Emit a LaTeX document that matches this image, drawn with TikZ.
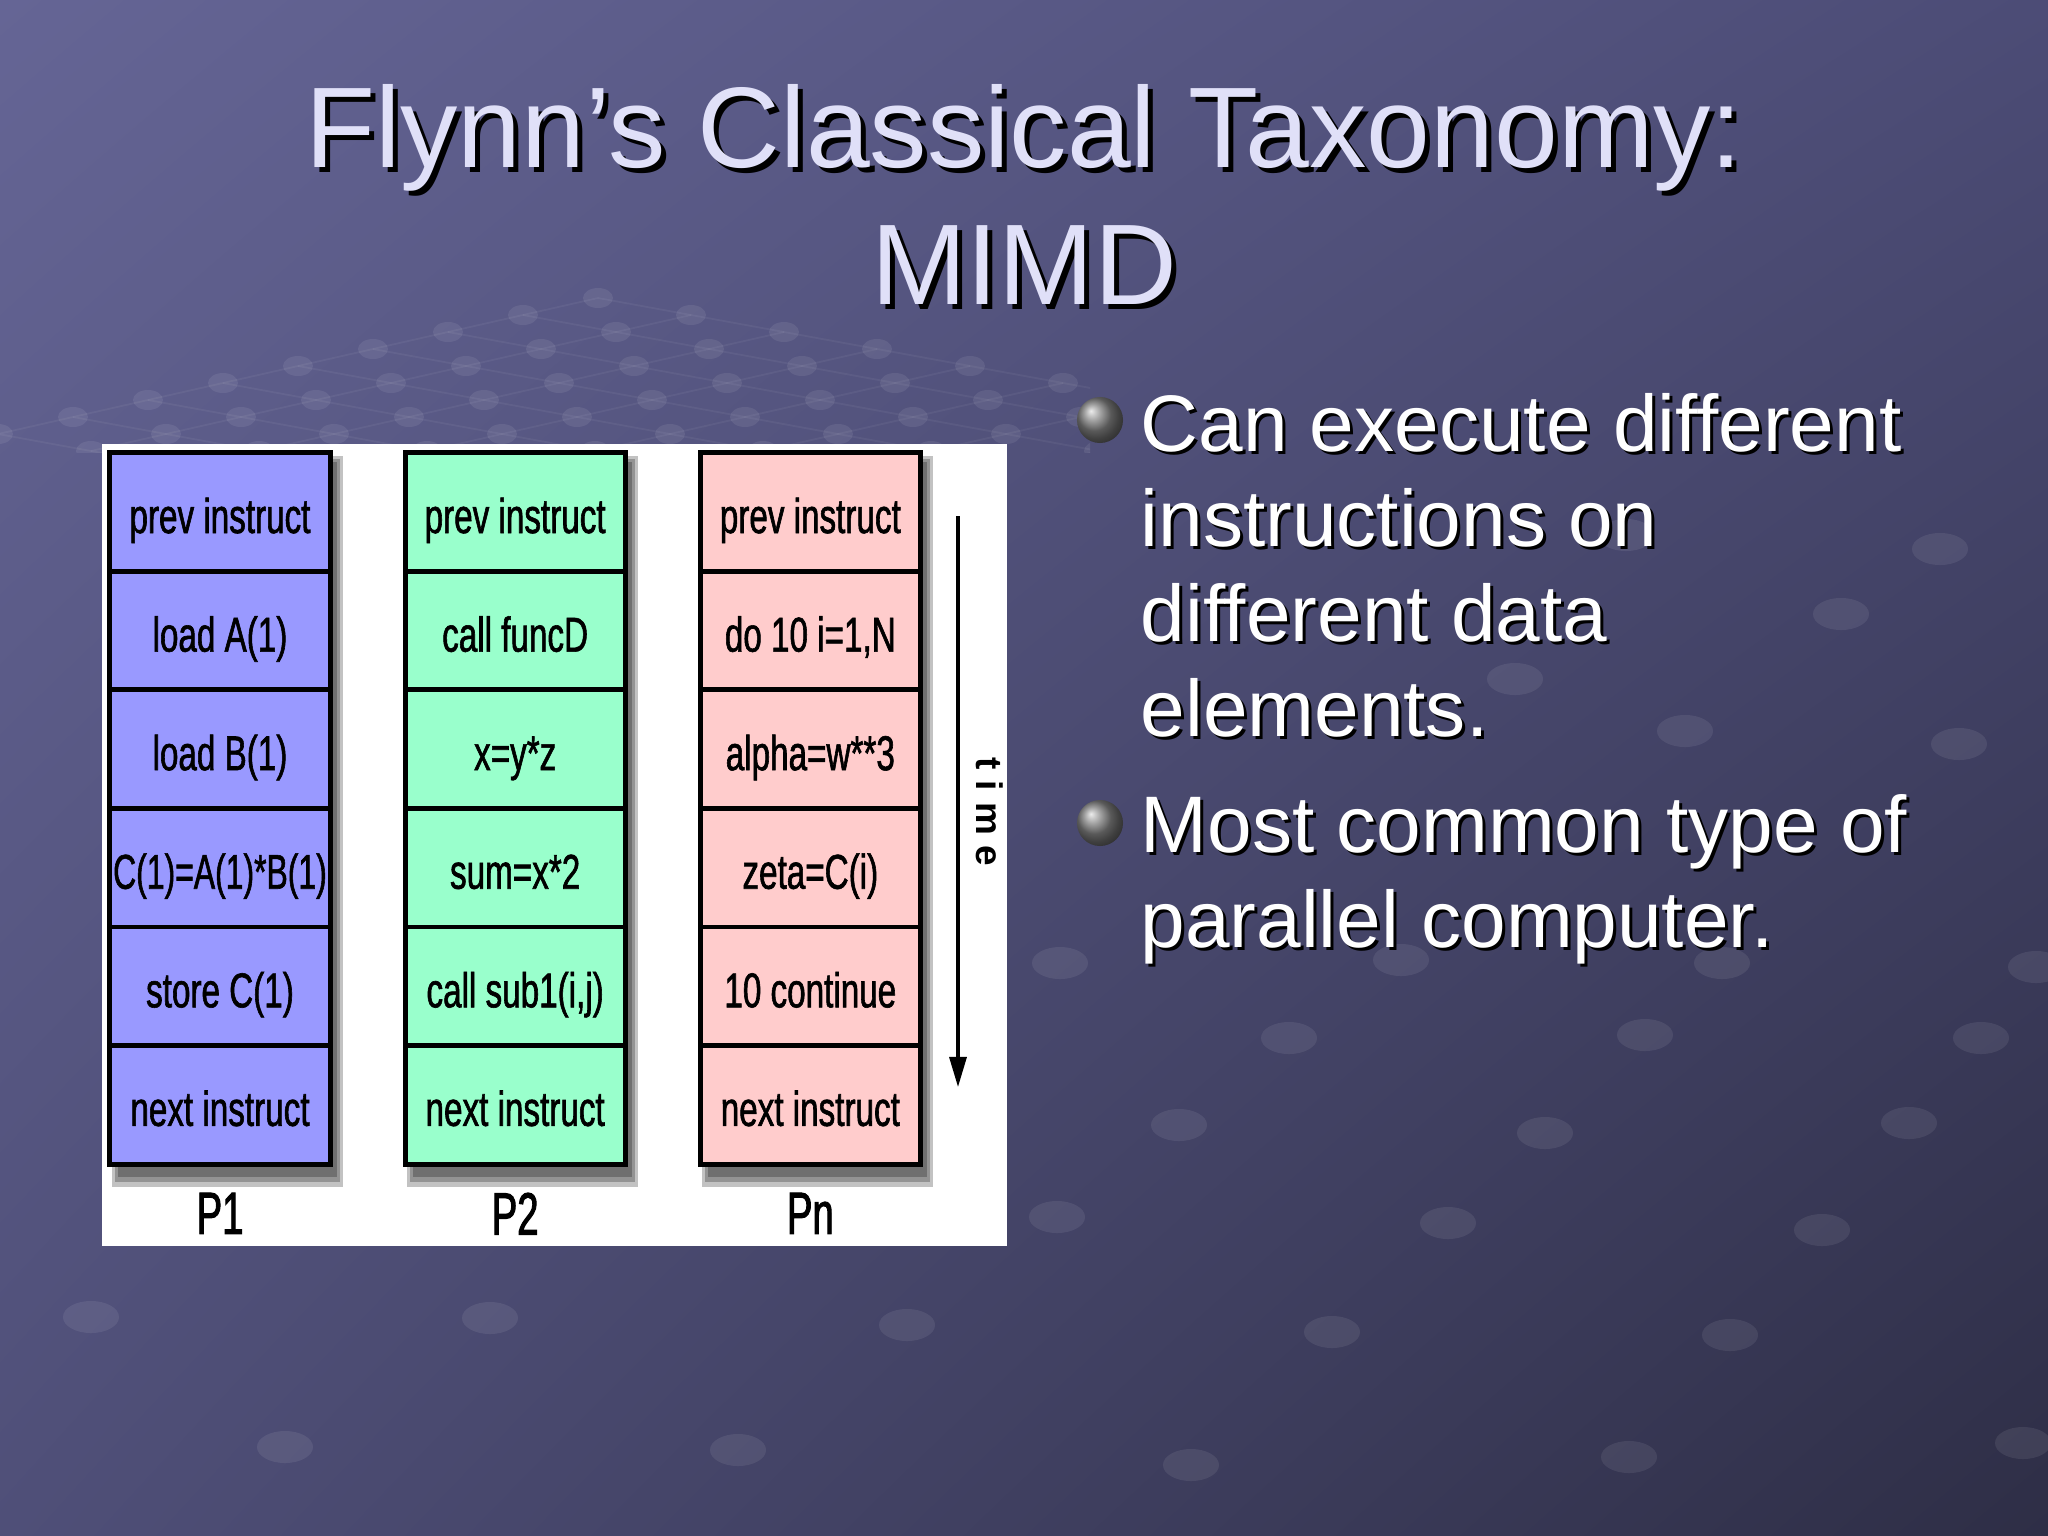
\documentclass[tikz,border=0pt]{standalone}
\usepackage{fontspec}
\setmainfont{Liberation Sans}
\newfontfamily\narrowfont[FakeStretch=0.68, FakeBold=1.2]{Liberation Sans}
\newfontfamily\labelfont[FakeStretch=0.64, FakeBold=1.6]{Liberation Sans}
\usetikzlibrary{positioning,arrows.meta,shadings}

\definecolor{bgUL}{HTML}{656595}
\definecolor{bgUR}{HTML}{4C4C76}
\definecolor{bgLL}{HTML}{4F4F78}
\definecolor{bgLR}{HTML}{2E2E46}
\definecolor{titlecol}{HTML}{E0E0F8}
\definecolor{pone}{HTML}{9999FF}
\definecolor{ptwo}{HTML}{99FFCC}
\definecolor{pnth}{HTML}{FFCCCC}

\begin{document}
\begin{tikzpicture}[x=0.01cm, y=-0.01cm,
  cell/.style={draw, line width=1.4pt, outer sep=0pt, inner sep=0pt,
               minimum width=2.2cm, minimum height=1.185cm,
               text height=4.6mm, text depth=0.4mm,
               font=\narrowfont\fontsize{13.9}{16}\selectfont},
  cellA/.style={cell, fill=pone},
  cellB/.style={cell, fill=ptwo},
  cellN/.style={cell, fill=pnth},
  plbl/.style={inner sep=0pt, font=\labelfont\fontsize{17}{20}\selectfont},
  ttl/.style={inner sep=0pt, anchor=base, text=titlecol,
              font=\fontsize{32.6}{39}\selectfont},
  ttlsh/.style={ttl, text=black},
  bul/.style={inner sep=0pt, anchor=base west, text=white,
              font=\fontsize{22.8}{27}\selectfont},
  bulsh/.style={bul, text=black},
  tarr/.style={-{Triangle[length=3mm, width=1.7mm]}, line width=0.9pt},
  colshadow/.style={fill=black, fill opacity=0.24},
  latdot/.style={fill=white, fill opacity=0.08},
  latline/.style={draw=white, draw opacity=0.05, line width=0.5pt},
  bgdot/.style={fill=white, fill opacity=0.08},
]
  \useasboundingbox (0,0) rectangle (2048,1536);
  \shade[upper left=bgUL, upper right=bgUR, lower left=bgLL, lower right=bgLR]
    (0,0) rectangle (2048,1536);

  % background lattice and dots
  \begin{scope}
    \clip (0,280) rectangle (1090,452);
    \foreach \j in {0,...,8}
      \draw[latline] ({598-75*\j},{298+17*\j}) -- ({598+93*7-75*\j},{298+17*7+17*\j});
    \foreach \i in {0,...,7}
      \draw[latline] ({598+93*\i},{298+17*\i}) -- ({598+93*\i-75*8},{298+17*\i+17*8});
    \foreach \i in {0,...,7}
      \foreach \j in {0,...,8}
        \fill[latdot] ({598+93*\i-75*\j},{298+17*\i+17*\j})
          ellipse [x radius=0.15cm, y radius=0.1cm];
  \end{scope}
  \foreach \dx/\dy in {91/1317, 490/1318, 907/1325, 1332/1332, 1730/1335,
                       285/1447, 738/1450, 1191/1465, 1629/1457, 2023/1443,
                       1060/963, 1401/960, 1722/963, 2036/967, 1289/1038,
                       1645/1035, 1981/1038, 1179/1125, 1545/1133, 1909/1123,
                       1057/1217, 1448/1223, 1822/1230, 1685/731, 1515/679,
                       1841/614, 1940/549, 1959/744, 1626/535}
    \fill[bgdot] (\dx,\dy) ellipse [x radius=0.28cm, y radius=0.16cm];

  % title
  \node[ttlsh] (titlesh1) at (1029,172) {Flynn’s Classical Taxonomy:};
  \node[ttl] (title1) at (1024,167) {Flynn’s Classical Taxonomy:};
  \node[ttlsh] (titlesh2) at (1029,309) {MIMD};
  \node[ttl] (title2) at (1024,304) {MIMD};

  % diagram
  \fill[white] (102,444) rectangle (1007,1246);
  \foreach \cx in {108,403,698} {
    \fill[colshadow] ({\cx+4},456) rectangle ({\cx+235},1187);
    \fill[colshadow] ({\cx+7},459) rectangle ({\cx+232},1182);
    \fill[colshadow] ({\cx+10},462) rectangle ({\cx+229},1177);
  }

  \node[cellA] (a1) at (220,512) {prev instruct};
  \node[cellA, below=0pt of a1] (a2) {load A(1)};
  \node[cellA, below=0pt of a2] (a3) {load B(1)};
  \node[cellA, below=0pt of a3] (a4) {\scalebox{0.96}[1]{C(1)=A(1)*B(1)}};
  \node[cellA, below=0pt of a4] (a5) {store C(1)};
  \node[cellA, below=0pt of a5] (a6) {next instruct};

  \node[cellB, right=7.5mm of a1] (b1) {prev instruct};
  \node[cellB, below=0pt of b1] (b2) {call funcD};
  \node[cellB, below=0pt of b2] (b3) {x=y*z};
  \node[cellB, below=0pt of b3] (b4) {sum=x*2};
  \node[cellB, below=0pt of b4] (b5) {call sub1(i,j)};
  \node[cellB, below=0pt of b5] (b6) {next instruct};

  \node[cellN, right=7.5mm of b1] (n1) {prev instruct};
  \node[cellN, below=0pt of n1] (n2) {do 10 i=1,N};
  \node[cellN, below=0pt of n2] (n3) {alpha=w**3};
  \node[cellN, below=0pt of n3] (n4) {zeta=C(i)};
  \node[cellN, below=0pt of n4] (n5) {10 continue};
  \node[cellN, below=0pt of n5] (n6) {next instruct};

  \node[plbl, below=2.8mm of a6] (p1) {P1};
  \node[plbl, below=2.8mm of b6] (p2) {P2};
  \node[plbl, below=2.8mm of n6] (pn) {Pn};

  \coordinate (tstart) at (958,516);
  \coordinate (tend) at (958,1087);
  \draw[tarr] (tstart) -- (tend);
  \node[rotate=-90, inner sep=0pt, font=\bfseries\fontsize{10.5}{12}\selectfont] (tlbl) at (990,812)
    {t\hspace{1.1mm}i\hspace{1.1mm}m\hspace{1.1mm}e};

  % bullets
  \shade[ball color=gray] (1100,420) circle (0.23cm);
  \shade[ball color=gray] (1100,823) circle (0.23cm);
  \foreach \txt [count=\k] in {Can execute different, instructions on, different data, elements.} {
    \node[bulsh] (bas\k) at (1143,{454+95*(\k-1)}) {\txt};
    \node[bul] (ba\k) at (1140,{451+95*(\k-1)}) {\txt};
  }
  \foreach \txt [count=\k] in {Most common type of, parallel computer.} {
    \node[bulsh] (bbs\k) at (1143,{855+95*(\k-1)}) {\txt};
    \node[bul] (bb\k) at (1140,{852+95*(\k-1)}) {\txt};
  }
\end{tikzpicture}
\end{document}
